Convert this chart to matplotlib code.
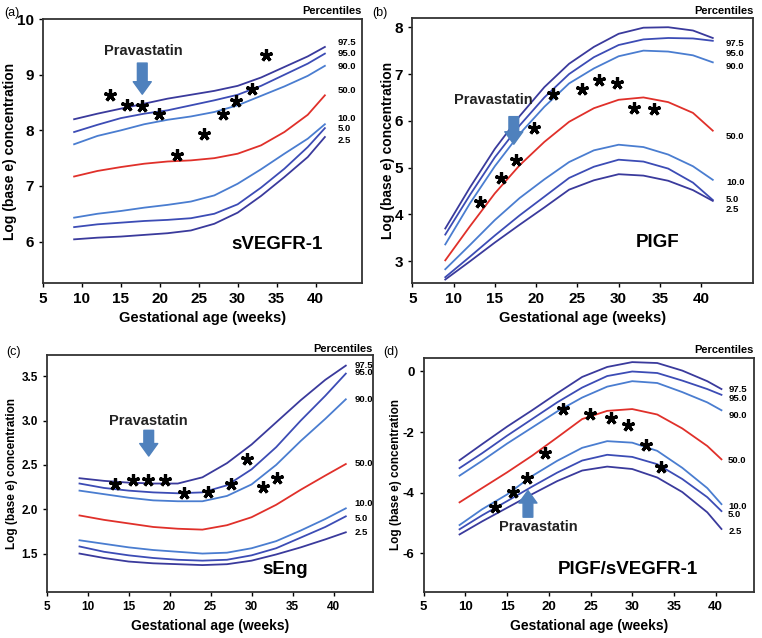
import matplotlib.pyplot as plt

plt.rcParams['font.family'] = ['Liberation Sans', 'DejaVu Sans']
plt.rcParams['font.weight'] = 'bold'
plt.rcParams['axes.labelweight'] = 'bold'
plt.rcParams['axes.unicode_minus'] = False

pct_names = ['97.5', '95.0', '90.0', '50.0', '10.0', '5.0', '2.5']
pct_colors = ['#3a3a9c', '#3c4cb5', '#4a7dd0', '#e0302a', '#4a7dd0', '#3c4cb5', '#3a3a9c']

# (a) sVEGFR-1
a_x = [9, 12, 15, 18, 21, 24, 27, 30, 33, 36, 39, 41.2]
a_975 = [8.20, 8.30, 8.39, 8.48, 8.57, 8.64, 8.71, 8.80, 8.95, 9.14, 9.33, 9.50]
a_95 = [7.97, 8.10, 8.22, 8.30, 8.36, 8.45, 8.54, 8.64, 8.80, 9.00, 9.20, 9.38]
a_90 = [7.75, 7.90, 8.00, 8.11, 8.19, 8.25, 8.33, 8.45, 8.62, 8.79, 8.98, 9.16]
a_50 = [7.17, 7.27, 7.34, 7.40, 7.44, 7.46, 7.50, 7.58, 7.73, 7.97, 8.28, 8.63]
a_10 = [6.43, 6.50, 6.55, 6.61, 6.66, 6.72, 6.83, 7.04, 7.30, 7.58, 7.85, 8.11]
a_5 = [6.26, 6.31, 6.34, 6.37, 6.39, 6.42, 6.50, 6.67, 6.97, 7.31, 7.70, 8.04]
a_25 = [6.04, 6.07, 6.09, 6.12, 6.15, 6.20, 6.32, 6.52, 6.82, 7.16, 7.52, 7.88]
a_star_x = [13.6, 15.8, 17.7, 19.9, 22.2, 25.7, 28.1, 29.8, 31.9, 33.7]
a_star_y = [8.64, 8.45, 8.44, 8.29, 7.56, 7.93, 8.30, 8.52, 8.74, 9.36]

# (b) PlGF
b_x = [9, 12, 15, 18, 21, 24, 27, 30, 33, 36, 39, 41.4]
b_975 = [3.70, 4.58, 5.40, 6.10, 6.72, 7.22, 7.58, 7.86, 7.99, 8.00, 7.93, 7.77]
b_95 = [3.57, 4.42, 5.22, 5.90, 6.50, 7.00, 7.36, 7.62, 7.74, 7.77, 7.76, 7.71]
b_90 = [3.36, 4.24, 5.03, 5.72, 6.30, 6.80, 7.12, 7.38, 7.50, 7.48, 7.40, 7.25]
b_50 = [3.02, 3.75, 4.45, 5.05, 5.55, 5.98, 6.27, 6.45, 6.50, 6.40, 6.17, 5.79]
b_10 = [2.83, 3.35, 3.88, 4.35, 4.75, 5.12, 5.37, 5.49, 5.44, 5.28, 5.03, 4.74]
b_5 = [2.66, 3.10, 3.55, 3.98, 4.38, 4.78, 5.02, 5.17, 5.13, 4.98, 4.68, 4.31]
b_25 = [2.61, 3.00, 3.40, 3.78, 4.15, 4.53, 4.73, 4.86, 4.83, 4.72, 4.52, 4.29]
b_star_x = [13.2, 15.7, 17.6, 19.8, 22.1, 25.6, 27.6, 29.8, 31.9, 34.3]
b_star_y = [4.27, 4.77, 5.16, 5.85, 6.57, 6.69, 6.87, 6.80, 6.27, 6.25]

# (c) sEng
c_x = [9, 12, 15, 18, 21, 24, 27, 30, 33, 36, 39, 41.5]
c_975 = [2.35, 2.32, 2.30, 2.29, 2.29, 2.36, 2.52, 2.73, 2.98, 3.23, 3.46, 3.62]
c_95 = [2.29, 2.24, 2.21, 2.19, 2.18, 2.19, 2.27, 2.45, 2.70, 3.00, 3.28, 3.53]
c_90 = [2.21, 2.17, 2.13, 2.10, 2.09, 2.09, 2.15, 2.28, 2.50, 2.77, 3.02, 3.24]
c_50 = [1.93, 1.88, 1.84, 1.80, 1.78, 1.77, 1.82, 1.91, 2.05, 2.22, 2.38, 2.51]
c_10 = [1.65, 1.61, 1.57, 1.54, 1.52, 1.50, 1.51, 1.56, 1.64, 1.76, 1.89, 2.01]
c_5 = [1.58, 1.52, 1.48, 1.45, 1.43, 1.42, 1.43, 1.48, 1.56, 1.68, 1.80, 1.92]
c_25 = [1.50, 1.45, 1.41, 1.39, 1.38, 1.37, 1.38, 1.42, 1.49, 1.57, 1.66, 1.74]
c_star_x = [13.3, 15.5, 17.3, 19.4, 21.7, 24.7, 27.5, 29.5, 31.4, 33.1]
c_star_y = [2.28, 2.33, 2.33, 2.33, 2.18, 2.19, 2.29, 2.57, 2.25, 2.35]

# (d) PlGF/sVEGFR-1
d_x = [9.3, 12, 15, 18, 21, 24, 27, 30, 33, 36, 39, 40.7]
d_975 = [-2.93, -2.40, -1.82, -1.28, -0.72, -0.18, 0.15, 0.31, 0.28, 0.03, -0.32, -0.58]
d_95 = [-3.19, -2.70, -2.12, -1.57, -1.02, -0.53, -0.15, 0.00, -0.05, -0.30, -0.58, -0.77]
d_90 = [-3.44, -2.95, -2.38, -1.85, -1.32, -0.86, -0.50, -0.32, -0.38, -0.68, -1.02, -1.28]
d_50 = [-4.32, -3.85, -3.33, -2.78, -2.18, -1.57, -1.30, -1.24, -1.42, -1.88, -2.46, -2.90]
d_10 = [-5.07, -4.55, -4.06, -3.45, -2.95, -2.52, -2.30, -2.35, -2.62, -3.18, -3.85, -4.38]
d_5 = [-5.21, -4.75, -4.28, -3.80, -3.34, -2.94, -2.75, -2.82, -3.06, -3.55, -4.15, -4.61]
d_25 = [-5.38, -4.95, -4.50, -4.05, -3.62, -3.27, -3.14, -3.22, -3.50, -3.98, -4.65, -5.20]
d_star_x = [13.5, 15.7, 17.4, 19.5, 21.7, 24.9, 27.4, 29.5, 31.6, 33.4]
d_star_y = [-4.48, -3.99, -3.51, -2.70, -1.23, -1.40, -1.54, -1.78, -2.44, -3.14]

fig = plt.figure(figsize=(7.62, 6.38), dpi=100)


def panel(rect, x, curves, sx, sy, xlim, ylim, yticks, lab_x, lab_y,
          name, name_xy, arrow_tail, arrow_tip, prava_xy, tick_fs, ylab_fs,
          xlab_fs, ylab_pos, xlab_pos, yfmt=None):
    ax = fig.add_axes(rect)
    for yv, c in zip(curves, pct_colors):
        ax.plot(x, yv, color=c, lw=1.3)
    ax.plot(sx, sy, ls='none', marker=(5, 2, 0), ms=9, mew=2.3, color='black')
    for t, ly in zip(pct_names, lab_y):
        ax.text(lab_x, ly, t, fontsize=6.8, va='center', ha='left', clip_on=False)
    ax.text(name_xy[0], name_xy[1], name, fontsize=13.5, ha='center', va='center')
    ax.text(prava_xy[0], prava_xy[1], 'Pravastatin', fontsize=10.5,
            ha='center', va='center', color='#222222')
    ax.annotate('', xy=arrow_tip, xytext=arrow_tail,
                arrowprops=dict(arrowstyle='simple,head_width=1.3,head_length=0.9,tail_width=0.7',
                                color='#4f81bd', shrinkA=0, shrinkB=0, mutation_scale=10))
    ax.set_xlim(*xlim)
    ax.set_ylim(*ylim)
    ax.set_xticks([5, 10, 15, 20, 25, 30, 35, 40])
    ax.set_yticks(yticks)
    if yfmt:
        ax.set_yticklabels([yfmt % v for v in yticks])
    ax.tick_params(labelsize=tick_fs, length=3, width=1, direction='out')
    for s in ax.spines.values():
        s.set_linewidth(1.3)
        s.set_color('#333333')
    ax.set_xlabel('Gestational age (weeks)', fontsize=xlab_fs)
    ax.set_ylabel('Log (base e) concentration', fontsize=ylab_fs)
    ax.xaxis.set_label_coords(0.5, xlab_pos)
    ax.yaxis.set_label_coords(ylab_pos, 0.5)
    return ax


panel([0.0564, 0.556, 0.419, 0.414], a_x,
      [a_975, a_95, a_90, a_50, a_10, a_5, a_25], a_star_x, a_star_y,
      (5, 46), (5.25, 10), [6, 7, 8, 9, 10], 42.8,
      [9.58, 9.38, 9.15, 8.72, 8.21, 8.04, 7.82],
      'sVEGFR-1', (35.1, 5.94), (17.75, 9.21), (17.75, 8.65), (17.9, 9.42),
      11, 10, 10.5, -0.082, -0.105)

panel([0.541, 0.556, 0.4475, 0.416], b_x,
      [b_975, b_95, b_90, b_50, b_10, b_5, b_25], b_star_x, b_star_y,
      (5, 46.3), (2.53, 8.2), [3, 4, 5, 6, 7, 8], 43.0,
      [7.66, 7.43, 7.17, 5.67, 4.68, 4.32, 4.11],
      'PlGF', (34.7, 3.41), (17.3, 6.09), (17.3, 5.50), (14.76, 6.45),
      11, 10, 10.5, -0.05, -0.105)

panel([0.0613, 0.0726, 0.428, 0.371], c_x,
      [c_975, c_95, c_90, c_50, c_10, c_5, c_25], c_star_x, c_star_y,
      (5, 44.8), (1.07, 3.74), [1.5, 2.0, 2.5, 3.0, 3.5], 42.6,
      [3.625, 3.54, 3.24, 2.52, 2.06, 1.90, 1.74],
      'sEng', (34.1, 1.32), (17.45, 2.89), (17.45, 2.60), (17.45, 2.99),
      8.5, 8.5, 10, -0.089, -0.115, yfmt='%.1f')

panel([0.556, 0.0726, 0.4335, 0.366], d_x,
      [d_975, d_95, d_90, d_50, d_10, d_5, d_25], d_star_x, d_star_y,
      (5, 44.6), (-7.27, 0.44), [-6, -4, -2, 0], 41.5,
      [-0.59, -0.88, -1.45, -2.94, -4.45, -4.73, -5.27],
      'PlGF/sVEGFR-1', (29.5, -6.54), (17.5, -4.81), (17.5, -3.93), (18.7, -5.14),
      9.5, 8.5, 10, -0.066, -0.115)

fig.text(362 / 762, 1 - 11 / 638, 'Percentiles', fontsize=8, ha='right', va='center')
fig.text(754 / 762, 1 - 11 / 638, 'Percentiles', fontsize=8, ha='right', va='center')
fig.text(373 / 762, 1 - 349 / 638, 'Percentiles', fontsize=8, ha='right', va='center')
fig.text(754 / 762, 1 - 350 / 638, 'Percentiles', fontsize=8, ha='right', va='center')

fig.text(4 / 762, 1 - 13 / 638, '(a)', fontsize=9, fontweight='normal', va='center')
fig.text(372 / 762, 1 - 13 / 638, '(b)', fontsize=9, fontweight='normal', va='center')
fig.text(6 / 762, 1 - 352 / 638, '(c)', fontsize=9, fontweight='normal', va='center')
fig.text(383 / 762, 1 - 352 / 638, '(d)', fontsize=9, fontweight='normal', va='center')

fig.savefig('out.png', dpi=100)
